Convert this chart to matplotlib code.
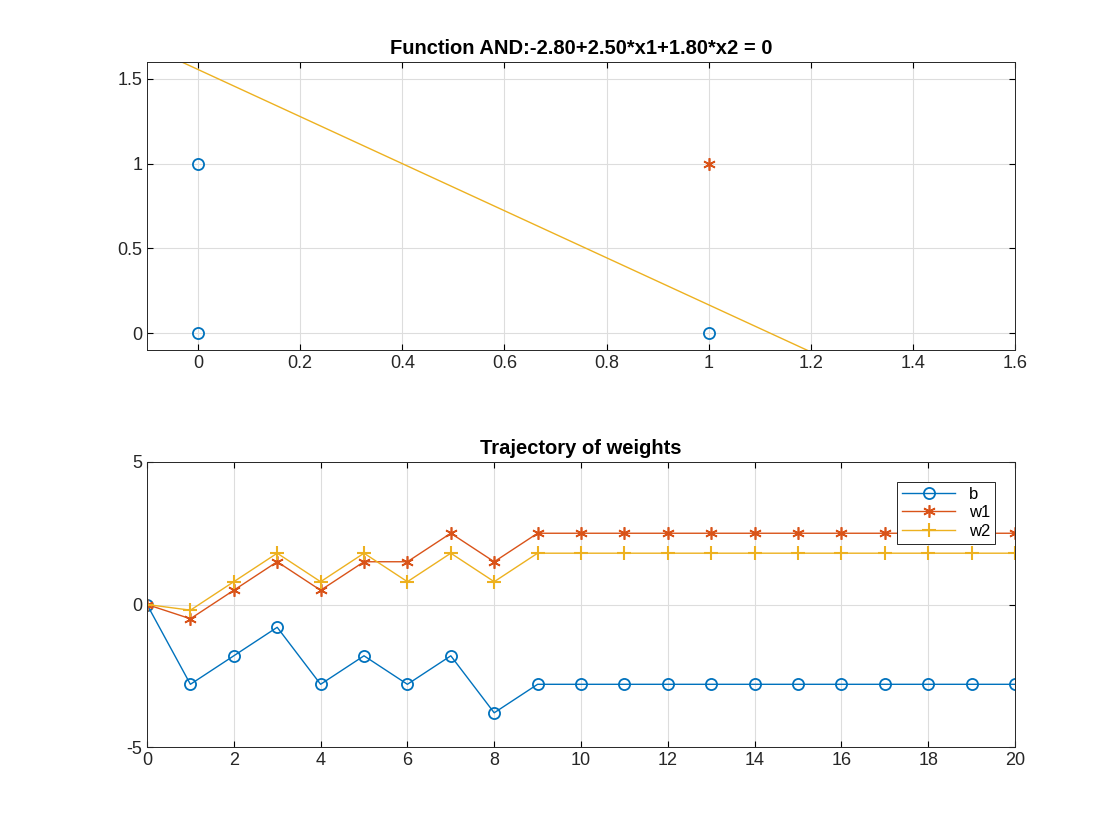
import matplotlib
matplotlib.use("Agg")
import matplotlib.pyplot as plt
import numpy as np

b  = [0,-2.8,-1.8,-0.8,-2.8,-1.8,-2.8,-1.8,-3.8] + [-2.8]*12
w1 = [0,-0.5,0.5,1.5,0.5,1.5,1.5,2.5,1.5] + [2.5]*12
w2 = [0,-0.2,0.8,1.8,0.8,1.8,0.8,1.8,0.8] + [1.8]*12
neg_x = [0,0,1]; neg_y = [0,1,0]
pos_x = [1]; pos_y = [1]
bias, a1, a2 = -2.8, 2.5, 1.8

C1, C2, C3 = '#0072BD', '#D95319', '#EDB120'
ast = (6, 2, 0)
plt.rcParams['font.family'] = ['Liberation Sans', 'DejaVu Sans']
plt.rcParams['axes.unicode_minus'] = False
fig = plt.figure(figsize=(11.2, 8.4), dpi=100)
W, H = 1120, 840
ax1 = fig.add_axes([147/W, 1-350/H, 868/W, 288/H])
ax2 = fig.add_axes([147/W, 1-747/H, 868/W, 285/H])

for ax in (ax1, ax2):
    ax.grid(True, color='#dddddd', linewidth=0.8)
    ax.set_axisbelow(True)
    ax.tick_params(direction='in', labelsize=13, length=4, top=True, right=True, labelcolor='#262626')
    for s in ax.spines.values():
        s.set_color('#262626'); s.set_linewidth(0.7)

xs = np.array([-0.1, 1.6])
ax1.plot(xs, -(bias + a1*xs)/a2, color=C3, linewidth=1)
ax1.plot(neg_x, neg_y, 'o', mfc='none', mec=C1, ms=8, mew=1.3)
ax1.plot(pos_x, pos_y, marker=ast, ls='none', color=C2, ms=9, mew=1.2)
ax1.set_xlim(-0.1, 1.6); ax1.set_ylim(-0.1, 1.6)
ax1.set_xticks(np.arange(0, 1.61, 0.2)); ax1.set_yticks([0, 0.5, 1, 1.5])
ax1.set_xticklabels(['0','0.2','0.4','0.6','0.8','1','1.2','1.4','1.6'])
ax1.set_yticklabels(['0','0.5','1','1.5'])
ax1.set_title('Function AND:-2.80+2.50*x1+1.80*x2 = 0', fontsize=14.5, fontweight='bold')

it = np.arange(len(b))
ax2.plot(it, b, '-o', color=C1, mfc='none', ms=8, mew=1.3, lw=1, label='b')
ax2.plot(it, w1, '-', marker=ast, color=C2, ms=9, mew=1.2, lw=1, label='w1')
ax2.plot(it, w2, '-+', color=C3, ms=10, mew=1.5, lw=1, label='w2')
ax2.set_xlim(0, 20); ax2.set_ylim(-5, 5)
ax2.set_xticks(range(0, 21, 2)); ax2.set_yticks([-5, 0, 5])
ax2.set_title('Trajectory of weights', fontsize=14.5, fontweight='bold')
leg = ax2.legend(loc='upper right', bbox_to_anchor=(0.977, 0.93), fontsize=12, fancybox=False,
                 framealpha=1, edgecolor='#262626', borderaxespad=0, handlelength=3.2,
                 borderpad=0.3, labelspacing=0.2)
leg.get_frame().set_linewidth(0.7)
fig.savefig('out.png', dpi=100)
